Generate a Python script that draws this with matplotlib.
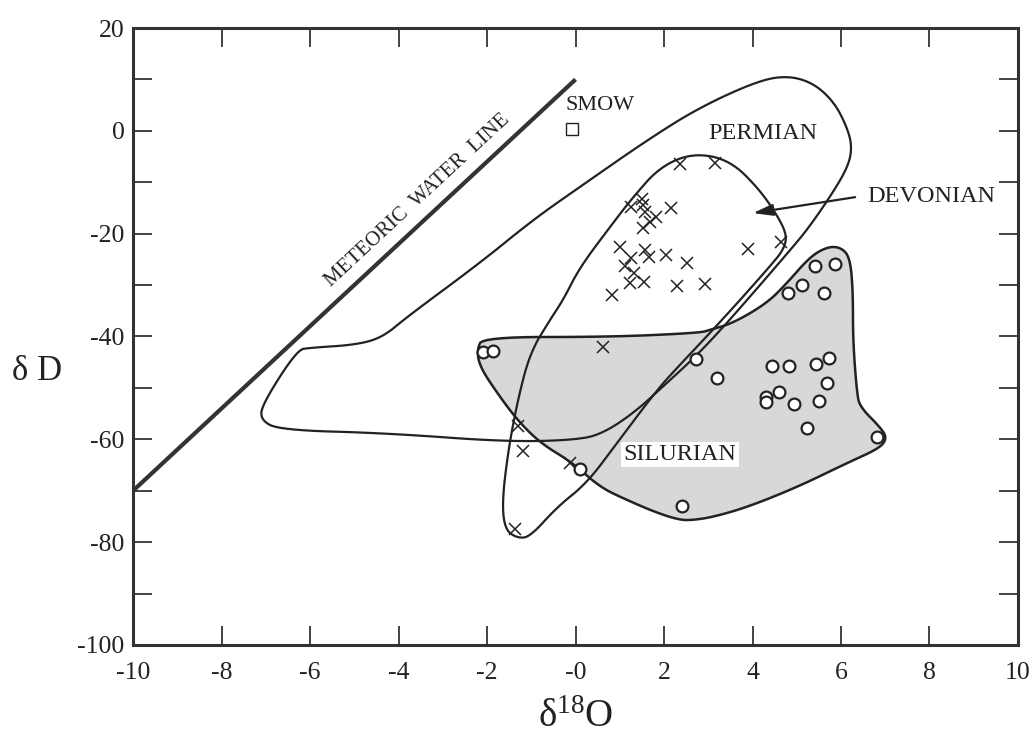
import numpy as np
import matplotlib
matplotlib.use("Agg")
import matplotlib.pyplot as plt
from matplotlib.patches import Polygon

plt.rcParams['font.family'] = ['Liberation Serif', 'DejaVu Serif']
plt.rcParams['mathtext.fontset'] = 'custom'
plt.rcParams['mathtext.rm'] = 'Liberation Serif'
plt.rcParams['mathtext.it'] = 'Liberation Serif'
plt.rcParams['mathtext.bf'] = 'Liberation Serif'

# ---- data ----
cross_x = [2.36, 3.15, 1.25, 1.50, 1.52, 1.57, 1.82, 1.68, 1.52, 2.16, 1.00, 1.57, 1.66, 1.25,
           1.12, 1.32, 2.05, 2.52, 1.23, 1.55, 0.82, 2.29, 2.93, 3.90, 4.64, 0.62, -1.30, -1.19,
           -0.12, -1.37]
cross_y = [-6.4, -6.3, -14.8, -13.3, -14.4, -15.8, -16.8, -17.7, -18.9, -15.0, -22.6, -23.2, -24.5,
           -24.8, -26.3, -27.7, -24.1, -25.7, -29.6, -29.4, -31.9, -30.2, -29.8, -23.0, -21.6, -42.0,
           -57.4, -62.3, -64.6, -77.4]

circle_x = [-2.09, -1.86, 2.72, 3.20, 0.10, 2.41, 5.41, 5.86, 5.12, 4.80, 5.62, 4.44, 4.83, 5.43,
            5.73, 5.68, 4.60, 4.31, 4.31, 4.94, 5.50, 5.23, 6.81]
circle_y = [-43.0, -42.8, -44.4, -48.1, -65.8, -73.0, -26.3, -25.9, -30.0, -31.5, -31.5, -45.7, -45.7,
            -45.3, -44.2, -49.0, -50.8, -51.8, -52.7, -53.1, -52.5, -57.8, -59.5]

smow_x, smow_y = [-0.07], [0.45]

mwl_x = [-10, 0]
mwl_y = [-70, 10]

permian_x = [5.75, 5.23, 4.85, 4.17, 3.42, 2.75, 2.02, 1.34, 0.67, 0.10, -1.55, -4.26, -6.68, -7.13,
             -7.06, -6.29, -6.00, -4.94, -4.35, -3.81, -2.16, -0.96, 0.10, 1.62, 2.81, 4.17, 4.85,
             5.41, 5.86, 6.14, 6.25, 6.16]
permian_y = [-12.9, -19.3, -23.2, -30.0, -37.4, -43.6, -49.4, -54.7, -58.6, -60.1, -60.5, -58.8,
             -58.2, -56.2, -52.9, -42.6, -42.2, -41.6, -40.1, -36.2, -25.7, -17.3, -10.9, -1.8, 4.6,
             9.9, 10.7, 9.1, 5.4, 0.6, -3.1, -7.0]

devonian_x = [2.66, 3.49, 4.17, 4.62, 4.78, 4.69, 4.46, 3.72, 3.04, 2.36, 1.84, 0.94, 0.26, -0.42,
              -1.03, -1.32, -1.59, -1.66, -1.53, -1.32, -1.03, -0.58, -0.28, 0.10, 0.85, 1.30, 1.91]
devonian_y = [-4.3, -5.7, -11.5, -17.3, -20.6, -23.2, -25.7, -32.9, -39.3, -45.5, -50.4, -60.7,
              -68.5, -73.2, -79.0, -79.2, -77.6, -72.4, -62.7, -52.9, -43.2, -36.8, -32.9, -26.5,
              -17.9, -12.9, -7.0]

silurian_x = [-2.09, 0.78, 2.81, 3.04, 3.56, 4.33, 4.78, 5.30, 5.68, 5.98, 6.20, 6.27, 6.27, 6.36,
              6.43, 6.88, 7.04, 6.88, 6.14, 5.01, 3.88, 3.11, 2.66, 2.36, 1.84, 1.16, 0.55, -0.06,
              -0.80, -1.32, -1.77, -2.16, -2.23]
silurian_y = [-40.1, -40.1, -39.3, -38.7, -37.4, -33.5, -29.6, -24.5, -22.6, -22.6, -24.5, -31.0,
              -40.7, -51.0, -53.7, -57.6, -59.7, -61.7, -64.6, -69.3, -73.2, -75.1, -75.7, -75.7,
              -74.3, -71.8, -69.3, -64.6, -60.7, -56.2, -51.0, -45.9, -42.6]

x_ticks = [-10, -8, -6, -4, -2, 0, 2, 4, 6, 8, 10]
x_ticklabels = ['-10', '-8', '-6', '-4', '-2', '-0', '2', '4', '6', '8', '10']
y_ticks = [-100, -80, -60, -40, -20, 0, 20]
y_ticklabels = ['-100', '-80', '-60', '-40', '-20', '0', '20']
y_minor_ticks = [-90, -70, -50, -30, -10, 10]


def smooth_closed(xs, ys, iters=3):
    pts = np.column_stack([xs, ys]).astype(float)
    for _ in range(iters):
        nxt = np.roll(pts, -1, axis=0)
        q = 0.75 * pts + 0.25 * nxt
        r = 0.25 * pts + 0.75 * nxt
        pts = np.empty((2 * len(q), 2))
        pts[0::2] = q
        pts[1::2] = r
    return pts


INK = '#222222'

fig = plt.figure(figsize=(10.29, 7.41), dpi=100)
ax = fig.add_axes([0.1293, 0.1296, 0.8600, 0.8326])
ax.set_xlim(-10, 10)
ax.set_ylim(-100, 20)

# Silurian shaded field
ax.add_patch(Polygon(smooth_closed(silurian_x, silurian_y), closed=True,
                     facecolor='#d8d8d8', edgecolor=INK, lw=1.8, zorder=1))
# Permian and Devonian outlines
ax.add_patch(Polygon(smooth_closed(permian_x, permian_y), closed=True,
                     facecolor='none', edgecolor=INK, lw=1.6, zorder=2))
ax.add_patch(Polygon(smooth_closed(devonian_x, devonian_y), closed=True,
                     facecolor='none', edgecolor=INK, lw=1.6, zorder=2))

# meteoric water line
ax.plot(mwl_x, mwl_y, color='#333333', lw=3.0, zorder=3, solid_capstyle='butt')

# points
ax.plot(cross_x, cross_y, ls='none', marker='x', ms=8, mew=1.1, color=INK, zorder=4)
ax.plot(circle_x, circle_y, ls='none', marker='o', ms=8.5, mew=1.6, mfc='white',
        mec=INK, zorder=4)
ax.plot(smow_x, smow_y, ls='none', marker='s', ms=8, mew=1.0, mfc='white',
        mec=INK, zorder=4)

# labels
ax.text(0.55, 5.0, 'SMOW', fontsize=16, ha='center', va='center', color=INK)
ax.text(4.24, -0.6, 'PERMIAN', fontsize=17.5, ha='center', va='center', color=INK)
ax.text(8.03, -12.7, 'DEVONIAN', fontsize=17.5, ha='center', va='center', color=INK)
ax.text(2.36, -63.0, 'SILURIAN', fontsize=17.5, ha='center', va='center', color=INK,
        bbox=dict(facecolor='white', edgecolor='none', pad=1.5), zorder=5)
ax.text(-3.58, -13.45, 'METEORIC  WATER  LINE', fontsize=15, ha='center', va='center',
        rotation=42.9, color=INK, rotation_mode='anchor')
ax.annotate('', xy=(4.01, -16.0), xytext=(6.32, -12.9),
            arrowprops=dict(arrowstyle='-|>,head_length=1.2,head_width=0.35',
                            color=INK, lw=1.6, shrinkA=0, shrinkB=0), zorder=6)

# axes styling
ax.set_xticks(x_ticks)
ax.set_xticklabels(x_ticklabels)
ax.set_yticks(y_ticks)
ax.set_yticklabels(y_ticklabels)
ax.set_yticks(y_minor_ticks, minor=True)
ax.tick_params(which='both', direction='in', top=True, right=True, length=14, width=1.2,
               colors=INK)
ax.tick_params(axis='x', labelsize=18.5, pad=12)
ax.tick_params(axis='y', labelsize=18.5, pad=6)
for s in ax.spines.values():
    s.set_linewidth(2.2)
    s.set_color('#333333')

ax.set_xlabel('δ$^{18}$O', fontsize=28, color=INK, va='center', ha='center')
ax.xaxis.set_label_coords(0.5, -0.118)
ax.set_ylabel('δ D', fontsize=25, rotation=0, va='center', ha='center', color=INK)
ax.yaxis.set_label_coords(-0.108, 0.4425)

fig.savefig('out.png', dpi=100)
